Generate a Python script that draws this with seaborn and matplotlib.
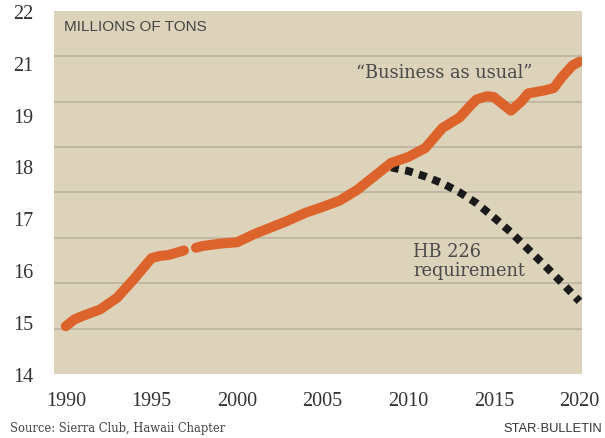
import numpy as np
import pandas as pd
import matplotlib.pyplot as plt
import seaborn as sns

# "Business as usual" emissions (gap around 1997)
bau_years_a = [1990, 1990.5, 1991, 1992, 1993, 1994, 1995, 1995.5, 1996, 1996.9]
bau_values_a = [15.05, 15.2, 15.28, 15.42, 15.68, 16.1, 16.55, 16.6, 16.62, 16.72]
bau_years_b = [1997.6, 1998, 1999, 2000, 2001, 2002, 2003, 2004, 2005, 2006, 2007,
               2008, 2009, 2010, 2011, 2012, 2013, 2013.6, 2014, 2014.6, 2015,
               2015.5, 2016, 2016.6, 2017, 2018, 2018.5, 2019, 2019.6, 2020]
bau_values_b = [16.78, 16.82, 16.87, 16.9, 17.08, 17.23, 17.38, 17.55, 17.68, 17.82, 18.05,
                18.35, 18.65, 18.78, 18.98, 19.42, 19.65, 19.9, 20.05, 20.12, 20.1,
                19.95, 19.8, 20.0, 20.18, 20.25, 20.3, 20.55, 20.8, 20.88]

# HB 226 requirement
hb_years = [2009, 2010, 2011, 2012, 2013, 2014, 2015, 2016, 2017, 2018, 2019, 2020]
hb_values = [18.55, 18.47, 18.35, 18.2, 18.0, 17.76, 17.45, 17.12, 16.75, 16.38, 16.0, 15.6]

x_ticks = [1990, 1995, 2000, 2005, 2010, 2015, 2020]
# the printed labels skip 20 and are spread evenly over the axis
y_tick_labels = ['14', '15', '16', '17', '18', '19', '21', '22']
grid_values = [15, 16, 17, 18, 19, 20, 21]

bg = '#dcd3ba'
orange = '#dc642c'

sns.set_style('white', {'axes.facecolor': bg})
plt.rcParams['font.family'] = ['Liberation Serif', 'DejaVu Serif']

fig = plt.figure(figsize=(6.05, 4.39), dpi=100)
ax = fig.add_axes([0.089, 0.146, 0.873, 0.827])

for v in grid_values:
    ax.axhline(v, color='#bdb6a3', linewidth=1.3, zorder=0)

df_a = pd.DataFrame({'year': bau_years_a, 'value': bau_values_a})
df_b = pd.DataFrame({'year': bau_years_b, 'value': bau_values_b})
df_hb = pd.DataFrame({'year': hb_years, 'value': hb_values})

for d in [df_a, df_b]:
    sns.lineplot(data=d, x='year', y='value', ax=ax, color=orange, linewidth=7.2,
                 solid_capstyle='round', solid_joinstyle='round', zorder=3)
sns.lineplot(data=df_hb, x='year', y='value', ax=ax, color='#1a1a1a', linewidth=5.6,
             linestyle=(0, (1, 0.85)), dash_capstyle='butt', zorder=2)

ax.set_xlim(1989.3, 2020.15)
ax.set_ylim(14, 22)
ax.set_xticks(x_ticks)
ax.set_xticklabels([str(t) for t in x_ticks])
ax.set_yticks(np.linspace(14, 22, len(y_tick_labels)))
ax.set_yticklabels(y_tick_labels)
ax.tick_params(axis='both', length=0, labelsize=14.5, colors='#333333')
ax.tick_params(axis='y', pad=15)
ax.tick_params(axis='x', pad=12)
ax.set_xlabel('')
ax.set_ylabel('')
for s in ax.spines.values():
    s.set_visible(False)

ax.text(0.019, 0.978, 'MILLIONS OF TONS', transform=ax.transAxes, ha='left', va='top',
        fontsize=11, color='#444444', family=['Liberation Sans', 'DejaVu Sans'])
ax.text(2012.1, 20.65, '\u201cBusiness as usual\u201d', ha='center', va='center',
        fontsize=12.8, color='#4a4a4a', family=['DejaVu Serif'])
ax.text(2010.3, 16.5, 'HB 226\nrequirement', ha='left', va='center',
        fontsize=12.8, color='#4a4a4a', linespacing=1.05, family=['DejaVu Serif'])

fig.text(0.016, 0.008, 'Source: Sierra Club, Hawaii Chapter', ha='left', va='bottom',
         fontsize=8.3, color='#444444', family=['DejaVu Serif'])
fig.text(0.995, 0.01, 'STAR\u00b7BULLETIN', ha='right', va='bottom',
         fontsize=9.3, color='#333333', family=['Liberation Sans Narrow', 'Liberation Sans', 'DejaVu Sans'])

fig.savefig('out.png', dpi=100, facecolor='white')
